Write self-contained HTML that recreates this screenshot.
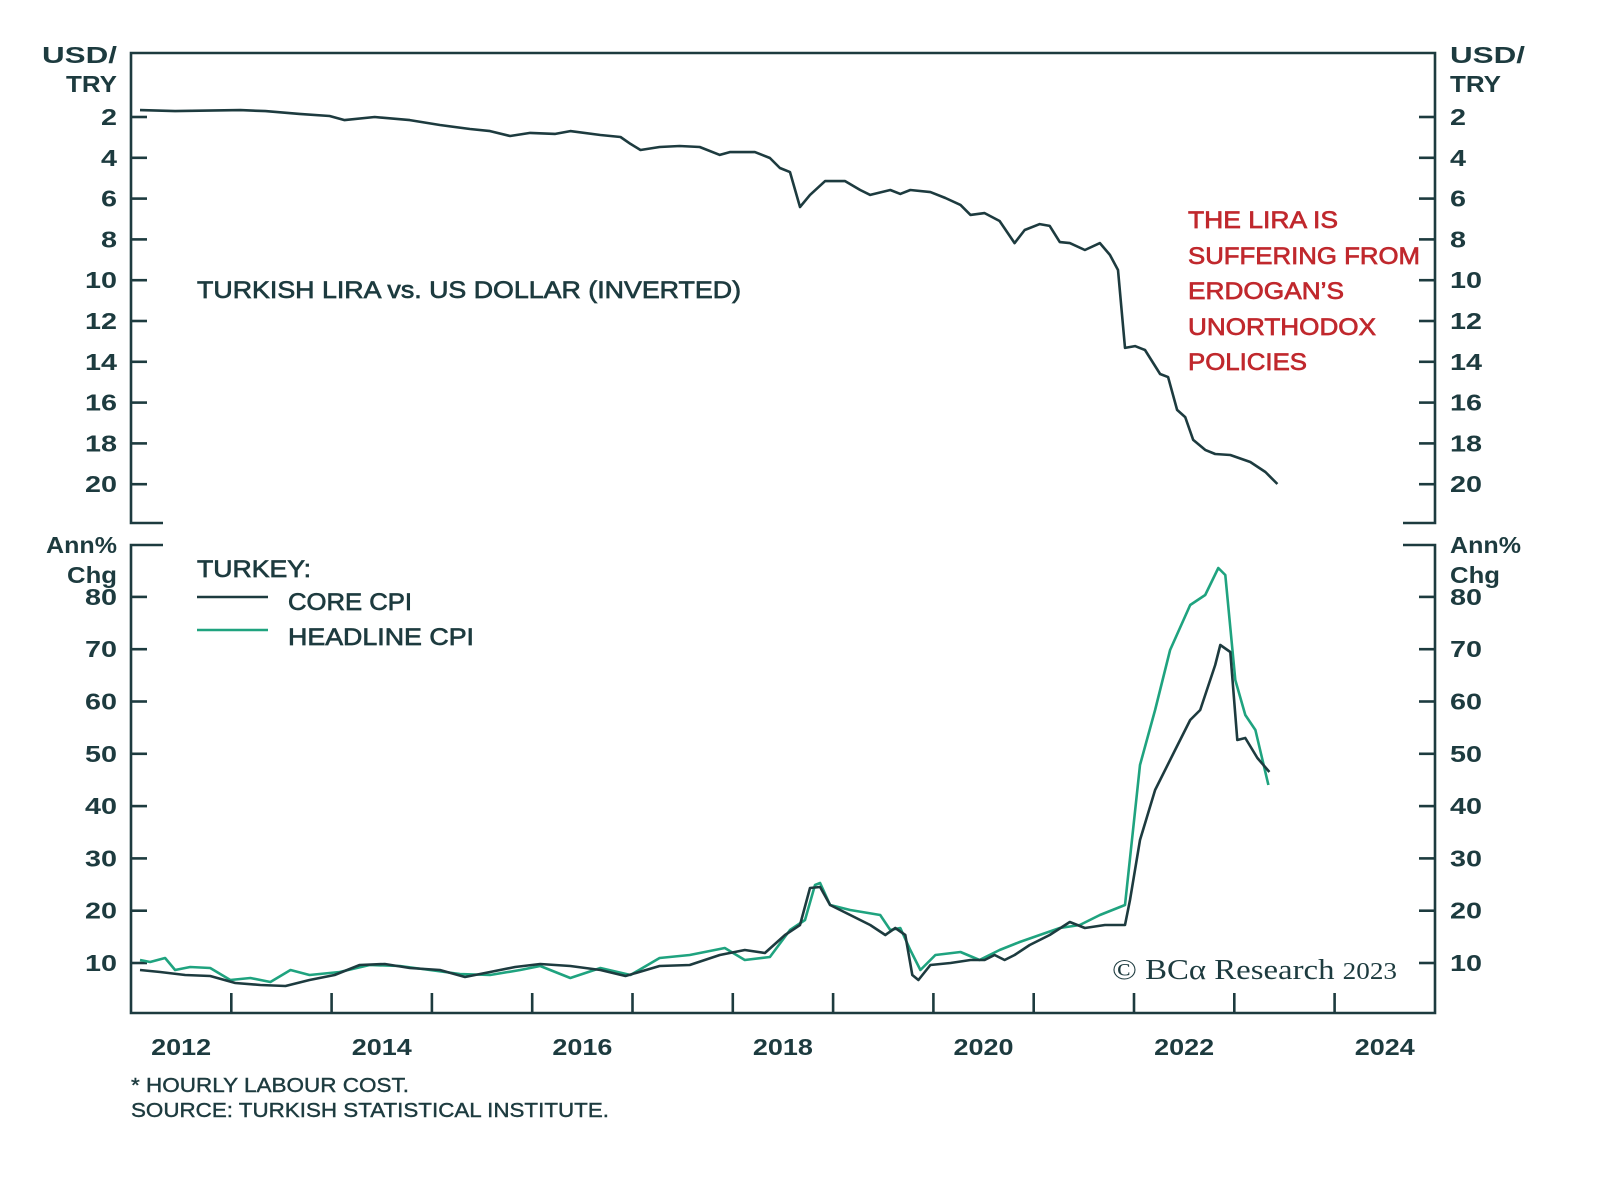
<!DOCTYPE html>
<html><head><meta charset="utf-8"><style>
html,body{margin:0;padding:0;background:#fff;}
svg{display:block;}
text{font-family:"Liberation Sans",sans-serif;fill:#1d3b3f;}
.tk{font-weight:bold;font-size:23px;}
.lab{font-size:24px;stroke:#1d3b3f;stroke-width:0.7;}
.red{font-size:24px;fill:#c0282d;stroke:#c0282d;stroke-width:0.7;}
.ft{font-size:20px;stroke:#1d3b3f;stroke-width:0.4;}
</style></head><body>
<svg id="chart" width="1600" height="1177" viewBox="0 0 1600 1177">
<g id="frame" stroke="#1d3b3f" stroke-width="2.6" fill="none">
<polyline points="163,523 131,523 131,53 1435,53 1435,523 1403,523"/>
<polyline points="163,545 131,545 131,1013 1435,1013 1435,545 1403,545"/>
</g>
<g id="axes"></g>
<g id="series"></g>
<text class="lab" x="197" y="298" textLength="544" lengthAdjust="spacingAndGlyphs">TURKISH LIRA vs. US DOLLAR (INVERTED)</text>
<g>
<text class="red" x="1188" y="228" textLength="150" lengthAdjust="spacingAndGlyphs">THE LIRA IS</text>
<text class="red" x="1188" y="264" textLength="232" lengthAdjust="spacingAndGlyphs">SUFFERING FROM</text>
<text class="red" x="1188" y="299" textLength="156" lengthAdjust="spacingAndGlyphs">ERDOGAN’S</text>
<text class="red" x="1188" y="335" textLength="188" lengthAdjust="spacingAndGlyphs">UNORTHODOX</text>
<text class="red" x="1188" y="370" textLength="119" lengthAdjust="spacingAndGlyphs">POLICIES</text>
</g>
<g>
<text class="lab" x="197" y="577" textLength="114" lengthAdjust="spacingAndGlyphs">TURKEY:</text>
<line x1="197" y1="597" x2="268" y2="597" stroke="#1d3b3f" stroke-width="2.5"/>
<text class="lab" x="288" y="610" textLength="124" lengthAdjust="spacingAndGlyphs">CORE CPI</text>
<line x1="197" y1="630" x2="268" y2="630" stroke="#1fa37f" stroke-width="2.5"/>
<text class="lab" x="288" y="645" textLength="186" lengthAdjust="spacingAndGlyphs">HEADLINE CPI</text>
</g>
<text x="1112" y="979" textLength="285" lengthAdjust="spacingAndGlyphs" style="font-family:'Liberation Serif',serif;font-size:29px;">© BCα Research <tspan style="font-size:24px">2023</tspan></text>
<text class="ft" x="131" y="1092" textLength="278" lengthAdjust="spacingAndGlyphs">* HOURLY LABOUR COST.</text>
<text class="ft" x="131" y="1117" textLength="478" lengthAdjust="spacingAndGlyphs">SOURCE: TURKISH STATISTICAL INSTITUTE.</text>
</svg>
<script>
const fxDates=[2012.09,2012.44,2013.09,2013.34,2013.68,2013.98,2014.13,2014.43,2014.78,2015.08,2015.38,2015.58,2015.78,2015.98,2016.23,2016.38,2016.68,2016.88,2016.98,2017.08,2017.27,2017.47,2017.67,2017.87,2017.97,2018.22,2018.37,2018.47,2018.57,2018.67,2018.77,2018.92,2019.12,2019.27,2019.37,2019.57,2019.67,2019.77,2019.97,2020.12,2020.27,2020.37,2020.51,2020.66,2020.81,2020.91,2021.06,2021.16,2021.26,2021.36,2021.51,2021.66,2021.76,2021.84,2021.91,2022.01,2022.11,2022.26,2022.34,2022.43,2022.51,2022.59,2022.71,2022.81,2022.96,2023.16,2023.31,2023.43];
const fxValues=[1.66,1.71,1.66,1.71,1.85,1.95,2.15,2.0,2.15,2.39,2.59,2.69,2.93,2.78,2.83,2.69,2.88,2.98,3.32,3.62,3.47,3.42,3.47,3.86,3.72,3.72,4.01,4.5,4.7,6.41,5.82,5.14,5.14,5.58,5.82,5.58,5.77,5.58,5.68,5.97,6.31,6.8,6.71,7.1,8.18,7.54,7.25,7.34,8.13,8.18,8.52,8.18,8.76,9.5,13.32,13.23,13.42,14.6,14.75,16.36,16.71,17.83,18.32,18.52,18.57,18.91,19.4,19.99];
const coreDates=[2012.09,2012.29,2012.54,2012.79,2013.04,2013.29,2013.54,2013.78,2014.03,2014.28,2014.53,2014.78,2015.08,2015.33,2015.58,2015.83,2016.08,2016.38,2016.68,2016.93,2017.27,2017.57,2017.87,2018.12,2018.32,2018.52,2018.67,2018.77,2018.87,2018.97,2019.17,2019.37,2019.52,2019.62,2019.72,2019.79,2019.85,2019.97,2020.17,2020.37,2020.51,2020.61,2020.71,2020.81,2020.96,2021.16,2021.36,2021.51,2021.71,2021.91,2021.96,2022.06,2022.21,2022.41,2022.56,2022.66,2022.81,2022.86,2022.96,2023.03,2023.11,2023.23,2023.35];
const coreValues=[8.66,8.28,7.71,7.51,6.18,5.79,5.6,6.75,7.71,9.62,9.81,9.04,8.66,7.32,8.28,9.24,9.81,9.43,8.66,7.51,9.43,9.62,11.53,12.49,11.91,15.35,17.27,24.34,24.53,21.09,19.18,17.27,15.35,16.69,15.35,7.71,6.75,9.62,10,10.57,10.57,11.53,10.57,11.53,13.44,15.35,17.84,16.69,17.27,17.27,22.05,33.52,43.08,50.73,56.46,58.37,66.98,70.8,69.46,52.64,53.02,49.2,46.52];
const headDates=[2012.09,2012.19,2012.34,2012.44,2012.59,2012.79,2012.99,2013.19,2013.39,2013.59,2013.78,2014.08,2014.38,2014.68,2014.98,2015.28,2015.58,2015.88,2016.08,2016.38,2016.68,2016.98,2017.27,2017.57,2017.92,2018.12,2018.37,2018.57,2018.72,2018.82,2018.87,2018.97,2019.17,2019.47,2019.57,2019.67,2019.77,2019.87,2020.02,2020.27,2020.46,2020.66,2020.86,2021.06,2021.26,2021.46,2021.66,2021.91,2022.06,2022.21,2022.36,2022.56,2022.71,2022.84,2022.91,2023.01,2023.11,2023.21,2023.34];
const headValues=[10.57,10.19,10.96,8.66,9.24,9.04,6.75,7.13,6.37,8.66,7.71,8.28,9.62,9.43,8.66,7.9,7.71,8.66,9.43,7.13,9.04,7.71,10.96,11.53,12.87,10.57,11.15,16.31,18.22,24.91,25.3,21.09,20.13,19.18,16.31,16.69,12.49,8.66,11.53,12.1,10.57,12.49,14.02,15.35,16.69,17.27,19.18,21.09,47.86,58.37,69.85,78.45,80.36,85.53,84.19,64.11,57.42,54.55,44.03];
const fxTicks=[2,4,6,8,10,12,14,16,18,20];
const cpiTicks=[10,20,30,40,50,60,70,80];
const yearTicks=[2013,2014,2015,2016,2017,2018,2019,2020,2021,2022,2023,2024];
const yearLabels=[2012,2014,2016,2018,2020,2022,2024];

const NS='http://www.w3.org/2000/svg';
const xS=y=>131+(y-2012)*100.3;
const yFx=v=>117+(v-2)*20.4;
const yCpi=v=>963-(v-10)*5.23;
const axes=document.getElementById('axes'), series=document.getElementById('series');
function mk(tag,attrs,parent,txt){const e=document.createElementNS(NS,tag);for(const k in attrs)e.setAttribute(k,attrs[k]);if(txt!==undefined)e.textContent=txt;parent.appendChild(e);return e;}
function tickGroup(v,y,name){
  const g=mk('g',{},axes);
  
  
  const w=String(v).length*16;
  mk('line',{x1:131,y1:y,x2:147,y2:y,stroke:'#1d3b3f','stroke-width':2.6},g);
  mk('line',{x1:1419,y1:y,x2:1435,y2:y,stroke:'#1d3b3f','stroke-width':2.6},g);
  mk('text',{x:117,y:y+8,'text-anchor':'end','class':'tk',textLength:w,lengthAdjust:'spacingAndGlyphs'},g,v);
  mk('text',{x:1450,y:y+8,'class':'tk',textLength:w,lengthAdjust:'spacingAndGlyphs'},g,v);
}
fxTicks.forEach(v=>tickGroup(v,yFx(v),'fx-tick-'+v));
cpiTicks.forEach(v=>tickGroup(v,yCpi(v),'cpi-tick-'+v));
yearTicks.forEach(yr=>{
  const l=mk('line',{x1:xS(yr),y1:993,x2:xS(yr),y2:1013,stroke:'#1d3b3f','stroke-width':2.6},axes);
  
  
});
yearLabels.forEach(yr=>{
  const t=mk('text',{x:xS(yr+0.5),y:1055,'text-anchor':'middle','class':'tk',textLength:60,lengthAdjust:'spacingAndGlyphs'},axes,yr);
  
  
});
function title(txt,x,y,anchor,w,name){
  const a={x:x,y:y,'class':'tk',textLength:w,lengthAdjust:'spacingAndGlyphs'};
  if(anchor)a['text-anchor']=anchor;
  const t=mk('text',a,axes,txt);
  
  
}
title('USD/',117,63,'end',75,'left-top-axis-title');
title('TRY',117,92,'end',51,'left-top-axis-title');
title('USD/',1450,63,null,75,'right-top-axis-title');
title('TRY',1450,92,null,51,'right-top-axis-title');
title('Ann%',117,553,'end',71,'left-bottom-axis-title');
title('Chg',117,583,'end',50,'left-bottom-axis-title');
title('Ann%',1450,553,null,71,'right-bottom-axis-title');
title('Chg',1450,583,null,50,'right-bottom-axis-title');
function line(dates,vals,ys,color,name){
  const pts=dates.map((d,i)=>xS(d).toFixed(1)+','+ys(vals[i]).toFixed(1)).join(' ');
  const p=mk('polyline',{points:pts,fill:'none',stroke:color,'stroke-width':2.6,'stroke-linejoin':'round'},series);
  
  
}
line(fxDates,fxValues,yFx,'#1d3b3f','usd-try-line');
line(headDates,headValues,yCpi,'#1fa37f','headline-cpi-line');
line(coreDates,coreValues,yCpi,'#1d3b3f','core-cpi-line');
</script>
</body></html>
